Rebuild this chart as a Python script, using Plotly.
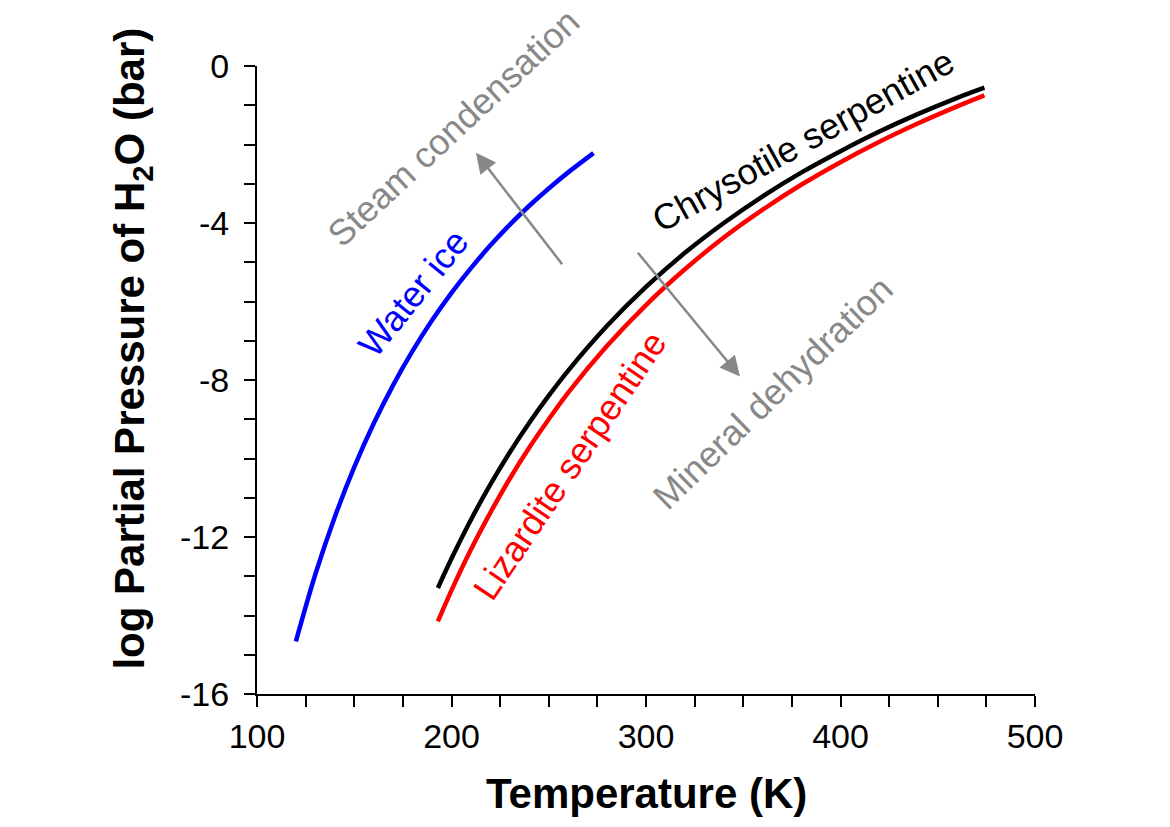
import plotly.graph_objects as go

# Water ice vapour pressure curve
ice_T = [120, 130, 140, 150, 160, 170, 180, 190, 200, 210, 220, 230, 240, 250, 260, 273]
ice_logP = [-14.66, -12.95, -11.49, -10.22, -9.11, -8.13, -7.26, -6.48, -5.78,
            -5.15, -4.57, -4.04, -3.56, -3.12, -2.71, -2.22]

# Serpentine dehydration curves
serp_T = [193, 200, 210, 220, 230, 240, 250, 260, 280, 300, 320, 340, 360, 380,
          400, 420, 440, 460, 474]
chrysotile_logP = [-13.30, -12.55, -11.56, -10.66, -9.84, -9.09, -8.40, -7.76, -6.62,
                   -5.63, -4.76, -4.00, -3.32, -2.71, -2.17, -1.67, -1.22, -0.81, -0.55]
lizardite_logP = [-14.15, -13.36, -12.32, -11.38, -10.51, -9.72, -9.00, -8.32, -7.13,
                  -6.09, -5.18, -4.37, -3.66, -3.02, -2.45, -1.93, -1.46, -1.03, -0.75]

# axis ticks
x_ticks = [100, 200, 300, 400, 500]
y_ticks = [0, -4, -8, -12, -16]
y_ticktext = ['0', '-4', '-8', '-12', '-16']

# text labels on the plot (data coords, center of text)
labels = ['Steam condensation', 'Water ice', 'Chrysotile serpentine',
          'Lizardite serpentine', 'Mineral dehydration']
label_x = [201.0, 180.7, 380.7, 260.9, 365.3]
label_y = [-1.56, -5.78, -1.90, -10.19, -8.33]
label_angle = [-43, -51, -29, -56, -44]
label_color = ['#888888', '#0000ff', '#000000', '#ff0000', '#888888']

# arrows: tail -> tip
arrow_tail_x = [257.5, 295.2]
arrow_tail_y = [-5.09, -4.72]
arrow_tip_x = [212.6, 348.3]
arrow_tip_y = [-2.21, -7.91]

FONT = 'Arial, Liberation Sans, sans-serif'

fig = go.Figure()

fig.add_trace(go.Scatter(x=ice_T, y=ice_logP, mode='lines', name='Water ice',
                         line=dict(color='#0000ff', width=4.5, shape='spline')))
fig.add_trace(go.Scatter(x=serp_T, y=chrysotile_logP, mode='lines', name='Chrysotile',
                         line=dict(color='#000000', width=4.5, shape='spline')))
fig.add_trace(go.Scatter(x=serp_T, y=lizardite_logP, mode='lines', name='Lizardite',
                         line=dict(color='#ff0000', width=4.5, shape='spline')))

annotations = []
for t, x, y, a, c in zip(labels, label_x, label_y, label_angle, label_color):
    annotations.append(dict(x=x, y=y, xref='x', yref='y', text=t, textangle=a,
                            xanchor='center', yanchor='middle',
                            showarrow=False, font=dict(family=FONT, size=36, color=c)))

for tx, ty, hx, hy in zip(arrow_tail_x, arrow_tail_y, arrow_tip_x, arrow_tip_y):
    annotations.append(dict(x=hx, y=hy, ax=tx, ay=ty, xref='x', yref='y',
                            axref='x', ayref='y', text='', showarrow=True,
                            arrowhead=2, arrowsize=1.6, arrowwidth=2.5,
                            arrowcolor='#888888', standoff=0, startstandoff=0))

# axis titles
annotations.append(dict(x=0.5, y=0, xref='paper', yref='paper', yshift=-99,
                        xanchor='center', yanchor='middle',
                        text='<b>Temperature (K)</b>', showarrow=False,
                        font=dict(family=FONT, size=42, color='black')))
annotations.append(dict(x=0, y=0.55, xref='paper', yref='paper', xshift=-124,
                        xanchor='center', yanchor='middle',
                        text='<b>log Partial Pressure of H<sub>2</sub>O (bar)</b>',
                        textangle=-90, showarrow=False,
                        font=dict(family=FONT, size=42, color='black')))

fig.update_layout(
    width=1162, height=819,
    margin=dict(l=249, r=135, t=58, b=133),
    paper_bgcolor='white', plot_bgcolor='white',
    showlegend=False,
    annotations=annotations,
    xaxis=dict(range=[100, 500], tickmode='array', tickvals=x_ticks,
               showgrid=False, zeroline=False, showline=True, linecolor='black',
               linewidth=2, ticks='outside', ticklen=11, tickwidth=2, tickcolor='black',
               tickfont=dict(family=FONT, size=34, color='black'),
               minor=dict(dtick=25, tick0=100, ticks='outside', ticklen=11,
                          tickwidth=2, tickcolor='black', showgrid=False)),
    yaxis=dict(range=[-16, 0], tickmode='array', tickvals=y_ticks, ticktext=y_ticktext,
               showgrid=False, zeroline=False, showline=True, linecolor='black',
               linewidth=2, ticks='outside', ticklen=11, tickwidth=2, tickcolor='black',
               ticklabelstandoff=8,
               tickfont=dict(family=FONT, size=34, color='black'),
               minor=dict(dtick=1, tick0=0, ticks='outside', ticklen=11,
                          tickwidth=2, tickcolor='black', showgrid=False)),
)

fig.write_html('out.html')
